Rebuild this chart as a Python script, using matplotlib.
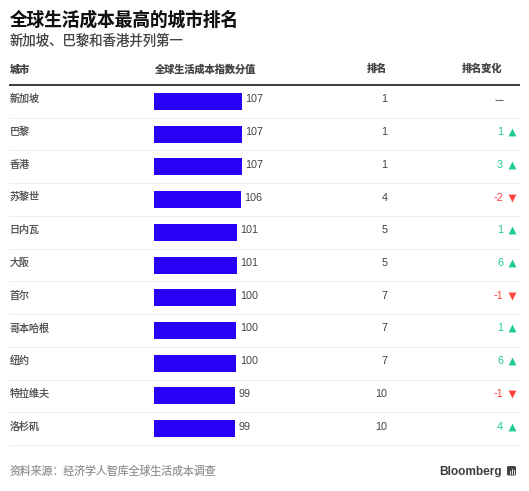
# %%
import matplotlib
matplotlib.use("Agg")
import matplotlib.pyplot as plt
from matplotlib.patches import FancyBboxPatch

plt.rcParams['font.family'] = ['Liberation Sans', 'Noto Sans CJK SC', 'DejaVu Sans']
plt.rcParams['text.hinting'] = 'no_autohint'
plt.rcParams['text.hinting_factor'] = 8

W, H = 529, 491

cities = ["新加坡", "巴黎", "香港", "苏黎世", "日内瓦", "大阪", "首尔", "哥本哈根", "纽约", "特拉维夫", "洛杉矶"]
scores = [107, 107, 107, 106, 101, 101, 100, 100, 100, 99, 99]
ranks = [1, 1, 1, 4, 5, 5, 7, 7, 7, 10, 10]
changes = [0, 1, 3, -2, 1, 6, -1, 1, 6, -1, 4]
headers = ["城市", "全球生活成本指数分值", "排名", "排名变化"]

title = "全球生活成本最高的城市排名"
subtitle = "新加坡、巴黎和香港并列第一"
source = "资料来源：经济学人智库全球生活成本调查"

BLUE = "#2800f5"
GREEN = "#1ecb92"
RED = "#ff433d"

fig = plt.figure(figsize=(W / 100, H / 100), dpi=100)

# whole figure axes in pixels, used for the text and the rules
ax = fig.add_axes([0, 0, 1, 1])
ax.set_xlim(0, W)
ax.set_ylim(H, 0)
ax.axis("off")

ax.text(9.5, 21, title, fontsize=12.7, fontweight="bold", color="#111111", va="center")
ax.text(9.5, 41, subtitle, fontsize=9.6, color="#444444", va="center")

header_y = 69
ax.text(9.5, header_y, headers[0], fontsize=7.3, fontweight="bold", color="#444444", va="center")
ax.text(154, header_y, headers[1], fontsize=7.3, fontweight="bold", color="#444444", va="center")
ax.text(387.5, header_y, headers[2], fontsize=7.3, fontweight="bold", color="#444444", va="center", ha="right")
ax.text(502.5, header_y, headers[3], fontsize=7.3, fontweight="bold", color="#444444", va="center", ha="right")
ax.plot([9, 520], [85, 85], color="#2b2b2b", lw=1.3, solid_capstyle="butt")

top = 85.0
row_h = 32.73
n = len(cities)

# the bars get their own axes so the lengths come from a real value scale
bar_ax = fig.add_axes([154 / W, 1 - (top + n * row_h) / H, 88 / W, n * row_h / H])
bar_ax.set_xlim(0, 107)
bar_ax.set_ylim(n, 0)
bar_ax.axis("off")
bar_ax.patch.set_alpha(0)
bar_ax.barh([i + 0.5 for i in range(n)], scores, height=0.52, color=BLUE, linewidth=0)

for i in range(n):
    mid = top + (i + 0.5) * row_h
    y = mid - 2.5
    ax.plot([9, 520], [top + (i + 1) * row_h] * 2, color="#eeeeee", lw=0.8, solid_capstyle="butt")
    ax.text(9.5, y, cities[i], fontsize=7.2, color="#555555", va="center")

    # score label sits just past the end of the bar
    bar_end = 154 + scores[i] * 88 / 107
    ax.text(bar_end + 3.5, y + 0.5, str(scores[i]), fontsize=7.8, color="#444444", va="center")
    ax.text(387.5, y + 0.5, str(ranks[i]), fontsize=7.8, color="#444444", va="center", ha="right")

    c = changes[i]
    if c == 0:
        ax.plot([495, 503], [y + 1, y + 1], color="#777777", lw=0.9, solid_capstyle="butt")
    elif c > 0:
        ax.text(503, y + 0.5, str(c), fontsize=7.8, color=GREEN, va="center", ha="right")
        ax.scatter([511.5], [y + 0.5], marker="^", s=32, color=GREEN, linewidths=0)
    else:
        ax.text(503, y + 0.5, str(c), fontsize=7.8, color=RED, va="center", ha="right")
        ax.scatter([511.5], [y + 0.5], marker="v", s=32, color=RED, linewidths=0)

ax.text(9.5, 470.5, source, fontsize=7.8, color="#999999", va="center")

# logo
ax.text(502, 475, "Bloomberg", fontsize=8.6, fontweight="bold", color="#3a3a3a", va="baseline", ha="right")
ax.add_patch(FancyBboxPatch((507, 466), 9, 9.5, boxstyle="round,pad=0,rounding_size=1.5", fc="#444444", ec="none"))
ax.plot([509.5, 509.5], [473.5, 471], color="white", lw=0.6)
ax.plot([511.5, 511.5], [473.5, 468.5], color="white", lw=0.6)
ax.plot([513.5, 513.5], [473.5, 470], color="white", lw=0.6)

fig.savefig("out.png", dpi=100, facecolor="white")
# %%
